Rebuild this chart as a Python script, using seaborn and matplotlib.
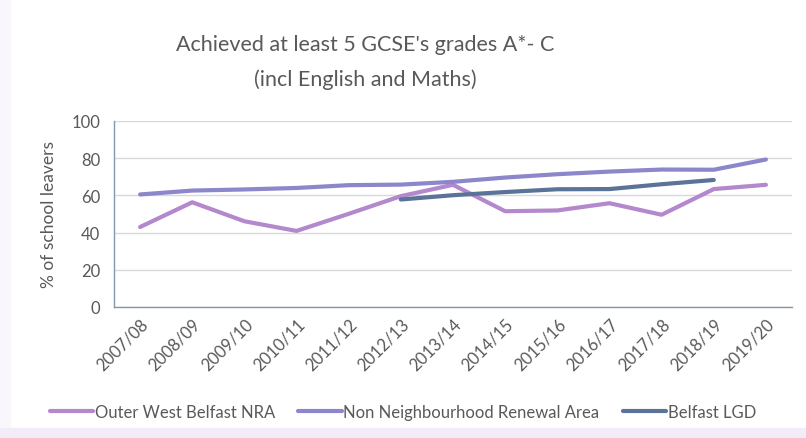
import matplotlib
matplotlib.use("Agg")
import matplotlib.pyplot as plt
import seaborn as sns
import pandas as pd
from matplotlib.patches import Rectangle

years = ["2007/08", "2008/09", "2009/10", "2010/11", "2011/12", "2012/13", "2013/14",
         "2014/15", "2015/16", "2016/17", "2017/18", "2018/19", "2019/20"]
outer_west = [43.0, 56.3, 46.1, 40.9, 50.1, 59.6, 65.7, 51.5, 51.9, 55.8, 49.6, 63.4, 65.7]
non_nra = [60.5, 62.6, 63.2, 64.0, 65.5, 65.8, 67.3, 69.6, 71.4, 72.8, 73.9, 73.8, 79.3]
belfast_lgd = [None, None, None, None, None, 57.8, 60.1, 61.8, 63.3, 63.4, 66.0, 68.3, None]

series_names = ["Outer West Belfast NRA", "Non Neighbourhood Renewal Area", "Belfast LGD"]
colors = ["#B388CC", "#8C86CB", "#5B7299"]

df = pd.DataFrame({"Year": years,
                   series_names[0]: outer_west,
                   series_names[1]: non_nra,
                   series_names[2]: belfast_lgd})
long_df = df.melt(id_vars="Year", var_name="Series", value_name="Value").dropna()

sns.set_theme(style="white")
plt.rcParams["font.family"] = ["Lato", "DejaVu Sans"]

fig = plt.figure(figsize=(8.06, 4.39), dpi=100)
ax = fig.add_axes([114 / 806, 1 - 308 / 439, 678 / 806, 186 / 439])

# faint frame edges like the original chart area
fig.patches.append(Rectangle((0, 0), 10 / 806, 1, transform=fig.transFigure,
                             color="#FAF7FC", zorder=-1))
fig.patches.append(Rectangle((0, 0), 1, 10 / 439, transform=fig.transFigure,
                             color="#F2EBF8", zorder=-1))

sns.lineplot(data=long_df, x="Year", y="Value", hue="Series", hue_order=series_names,
             palette=colors, linewidth=3, ax=ax, sort=False, legend=True)

ax.set_xlim(-0.5, len(years) - 0.5)
ax.set_ylim(0, 100)
ax.set_yticks(range(0, 101, 20))
ax.yaxis.grid(True, color="#D9D9D9", linewidth=1)
ax.set_axisbelow(True)
for s in ["top", "right"]:
    ax.spines[s].set_visible(False)
for s in ["left", "bottom"]:
    ax.spines[s].set_color("#8497B0")
    ax.spines[s].set_linewidth(1)
ax.tick_params(axis="both", length=0, labelsize=12, colors="#595959")
ax.tick_params(axis="y", pad=10)
ax.tick_params(axis="x", pad=6)
plt.setp(ax.get_xticklabels(), rotation=45, ha="right", rotation_mode="anchor")
ax.set_xlabel("")
ax.set_ylabel("% of school leavers", fontsize=12.5, color="#595959", labelpad=10)

fig.text(365 / 806, 1 - 45 / 439, "Achieved at least 5 GCSE's grades A*- C",
         ha="center", va="center", fontsize=15.5, color="#595959")
fig.text(365 / 806, 1 - 80 / 439, "(incl English and Maths)",
         ha="center", va="center", fontsize=15.5, color="#595959")

handles, labels = ax.get_legend_handles_labels()
ax.legend(handles, labels, loc="center", bbox_to_anchor=(0.5, 1 - 413 / 439),
          bbox_transform=fig.transFigure, ncol=3, frameon=False, fontsize=12,
          handlelength=2.6, handletextpad=0.1, columnspacing=1.4,
          labelcolor="#595959")

fig.savefig("out.png", dpi=100)
